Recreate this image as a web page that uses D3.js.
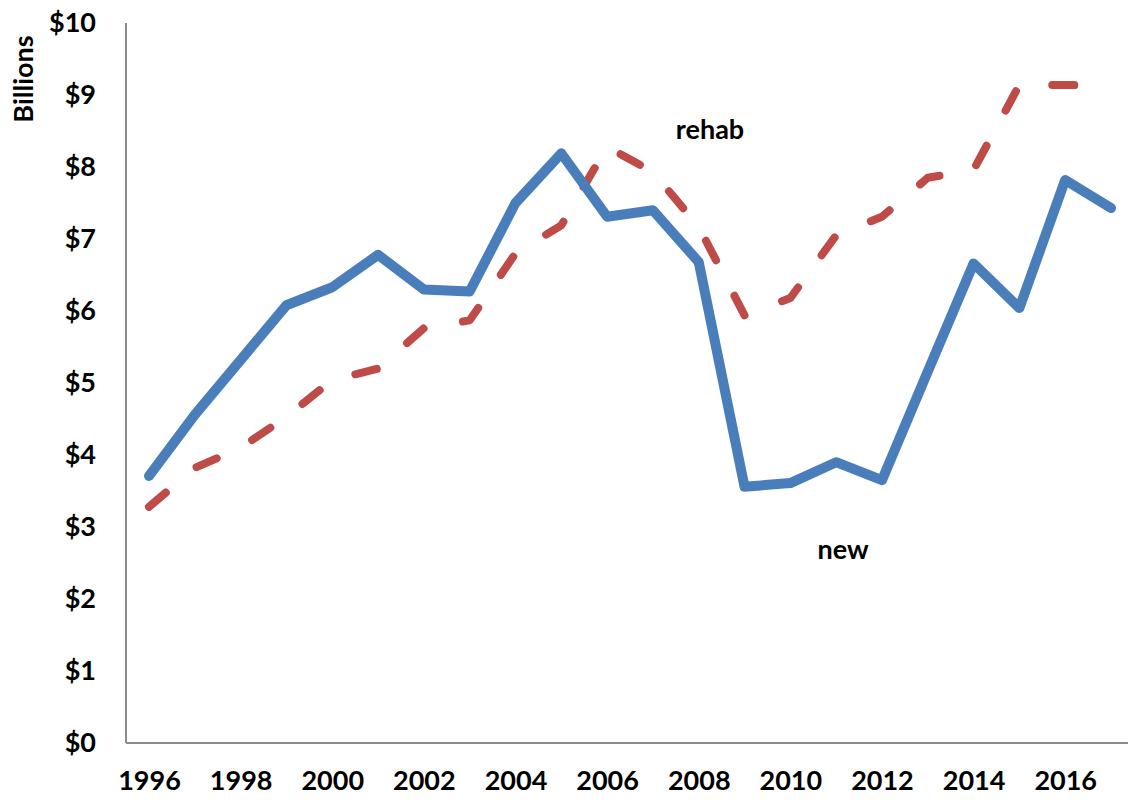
<!DOCTYPE html>
<html>
<head>
<meta charset="utf-8">
<script src="https://cdn.jsdelivr.net/npm/d3@7"></script>
<style>
  body { margin: 0; background: #fff; }
  svg text { font-family: Lato, "Open Sans", sans-serif; font-weight: bold; fill: #000; }
</style>
</head>
<body>
<div id="chart"></div>
<script>
// Data (billions of dollars)
const years = d3.range(1996, 2018);
const newValues = [3.71, 4.56, 5.32, 6.08, 6.33, 6.78, 6.30, 6.27, 7.50, 8.19, 7.31, 7.40, 6.68, 3.56, 3.61, 3.90, 3.65, 5.16, 6.66, 6.04, 7.82, 7.43];
const rehabValues = [3.28, 3.82, 4.10, 4.53, 5.04, 5.20, 5.76, 5.87, 6.80, 7.19, 8.28, 7.93, 7.17, 5.94, 6.18, 7.05, 7.31, 7.85, 7.96, 9.14, 9.14, 9.13];
const xTicks = [1996, 1998, 2000, 2002, 2004, 2006, 2008, 2010, 2012, 2014, 2016];
const yTicks = [0, 1, 2, 3, 4, 5, 6, 7, 8, 9, 10];

const W = 1128, H = 800;
const plot = { left: 126, right: 1128, top: 23, bottom: 743 };

const svg = d3.select('#chart').append('svg')
  .attr('width', W)
  .attr('height', H);

const x = d3.scaleLinear().domain([1996, 2017]).range([149, 1111]);
const y = d3.scaleLinear().domain([0, 10]).range([plot.bottom, plot.top]);

// y axis labels
const yAxis = svg.append('g')
  .attr('transform', `translate(${plot.left},0)`)
  .call(d3.axisLeft(y).tickValues(yTicks).tickSize(0).tickPadding(30).tickFormat(d => '$' + d));
yAxis.select('.domain').remove();
yAxis.selectAll('text').style('font-size', '27px').style('font-family', 'Lato, sans-serif');

// x axis labels
const xAxis = svg.append('g')
  .attr('transform', `translate(0,${plot.bottom})`)
  .call(d3.axisBottom(x).tickValues(xTicks).tickSize(0).tickPadding(28).tickFormat(d3.format('d')));
xAxis.select('.domain').remove();
xAxis.selectAll('text').style('font-size', '27px').style('font-family', 'Lato, sans-serif');

// axis lines
svg.append('line')
  .attr('x1', plot.left).attr('x2', plot.left)
  .attr('y1', plot.top).attr('y2', plot.bottom)
  .attr('stroke', '#8c8c8c').attr('stroke-width', 2);
svg.append('line')
  .attr('x1', plot.left).attr('x2', plot.right)
  .attr('y1', plot.bottom).attr('y2', plot.bottom)
  .attr('stroke', '#8c8c8c').attr('stroke-width', 2);

// axis title
svg.append('text')
  .attr('transform', 'translate(22,79) rotate(-90)')
  .attr('text-anchor', 'middle')
  .attr('dominant-baseline', 'central')
  .style('font-size', '27px')
  .text('Billions');

const line = d3.line()
  .x((d, i) => x(years[i]))
  .y(d => y(d));

// rehab series (dashed)
svg.append('path')
  .datum(rehabValues)
  .attr('d', line)
  .attr('fill', 'none')
  .attr('stroke', '#be4b48')
  .attr('stroke-width', 8)
  .attr('stroke-linecap', 'round')
  .attr('stroke-linejoin', 'round')
  .attr('stroke-dasharray', '22,40');

// new series (solid)
svg.append('path')
  .datum(newValues)
  .attr('d', line)
  .attr('fill', 'none')
  .attr('stroke', '#4a7ebb')
  .attr('stroke-width', 10)
  .attr('stroke-linecap', 'round')
  .attr('stroke-linejoin', 'round');

// series labels
svg.append('text')
  .attr('x', 710).attr('y', 128)
  .attr('text-anchor', 'middle')
  .attr('dominant-baseline', 'central')
  .style('font-size', '27px')
  .text('rehab');

svg.append('text')
  .attr('x', 843).attr('y', 548)
  .attr('text-anchor', 'middle')
  .attr('dominant-baseline', 'central')
  .style('font-size', '27px')
  .text('new');
</script>
</body>
</html>
